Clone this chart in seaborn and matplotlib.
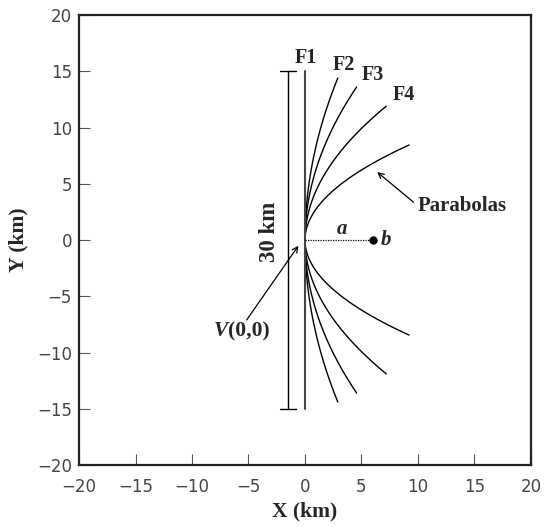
import numpy as np
import pandas as pd
import matplotlib
matplotlib.use("Agg")
import matplotlib.pyplot as plt
import seaborn as sns

# ---- data ----
curve_names = ["F2", "F3", "F4", "Parabolas"]
curve_coef = [0.0140, 0.0247, 0.0508, 0.129]      # x = coef * y^2
curve_ymax = [14.4, 13.6, 11.9, 8.45]             # extent of each branch
f1_x = 0.0
f1_ylim = [-15.0, 15.0]
scale_x = -1.47
scale_ylim = [-15.0, 15.0]
point_b = (6.0, 0.0)
label_pos = {"F1": (0.1, 16.2), "F2": (3.45, 15.6), "F3": (5.97, 14.7), "F4": (8.76, 12.9)}
ticks = [-20, -15, -10, -5, 0, 5, 10, 15, 20]

sns.set_style("ticks")
plt.rcParams["font.family"] = ["DejaVu Sans"]

fig = plt.figure(figsize=(5.49, 5.27), dpi=100)
ax = fig.add_axes([0.1439, 0.1176, 0.8233, 0.8539])

rows = []
for name, c, ym in zip(curve_names, curve_coef, curve_ymax):
    ys = np.linspace(-ym, ym, 200)
    for i, y in enumerate(ys):
        rows.append({"curve": name, "order": i, "x": c * y * y, "y": y})
df = pd.DataFrame(rows)
sns.lineplot(data=df, x="x", y="y", units="curve", estimator=None, sort=False,
             color="black", lw=1.0, ax=ax)

# F1 straight fault
ax.plot([f1_x, f1_x], f1_ylim, color="#444444", lw=1.5)

# 30 km scale bar
ax.plot([scale_x, scale_x], scale_ylim, color="black", lw=1.0)
for yv in scale_ylim:
    ax.plot([scale_x - 0.7, scale_x + 0.7], [yv, yv], color="black", lw=1.0)

serif = ["Liberation Serif", "DejaVu Serif"]
ax.text(-3.1, 0.7, "30 km", rotation=90, ha="center", va="center",
        fontsize=16.5, fontweight="bold", family=serif)

for k, (lx, ly) in label_pos.items():
    ax.text(lx, ly, k, ha="center", va="center", fontsize=14.5,
            fontweight="bold", family=serif)

# distance a to point b
ax.plot([0, point_b[0]], [0, point_b[1]], ls=(0, (1, 1)), color="black", lw=0.9)
ax.plot(point_b[0], point_b[1], "o", color="black", ms=5)
ax.text(point_b[0] + 0.7, 0.0, "b", ha="left", va="center", fontsize=15,
        fontstyle="italic", fontweight="bold", family=serif)
ax.text(3.3, 1.0, "a", ha="center", va="center", fontsize=15,
        fontstyle="italic", fontweight="bold", family=serif)

# Parabolas annotation
ax.annotate("", xy=(6.2, 6.2), xytext=(9.8, 3.2),
            arrowprops=dict(arrowstyle="->", color="black", lw=0.9))
ax.text(10.0, 3.0, "Parabolas", ha="left", va="center", fontsize=15,
        fontweight="bold", family=serif)

# V(0,0) annotation
ax.annotate("", xy=(-0.44, -0.3), xytext=(-5.3, -7.3),
            arrowprops=dict(arrowstyle="->", color="black", lw=0.9))
ax.text(-6.8, -8.1, "V", ha="right", va="center", fontsize=15.5,
        fontstyle="italic", fontweight="bold", family=serif)
ax.text(-6.85, -8.1, "(0,0)", ha="left", va="center", fontsize=15.5,
        fontweight="bold", family=serif)

ax.set_xlim(-20, 20)
ax.set_ylim(-20, 20)
ax.set_xticks(ticks)
ax.set_yticks(ticks)
ax.set_xticklabels([f"\u2212{abs(t)}" if t < 0 else str(t) for t in ticks])
ax.set_yticklabels([f"\u2212{abs(t)}" if t < 0 else str(t) for t in ticks])
ax.tick_params(axis="both", direction="in", length=8, width=0.8, colors="#555555",
               labelsize=12, labelcolor="#444444")
ax.tick_params(axis="x", pad=9)
ax.tick_params(axis="y", pad=5)
ax.set_xlabel("X (km)", fontsize=15.5, fontweight="bold", family=serif, labelpad=4)
ax.set_ylabel("Y (km)", fontsize=15.5, fontweight="bold", family=serif, labelpad=6)
for s in ax.spines.values():
    s.set_linewidth(1.6)
    s.set_color("#222222")
    s.set_visible(True)
if ax.get_legend():
    ax.get_legend().remove()

fig.savefig("out.png", dpi=100)
